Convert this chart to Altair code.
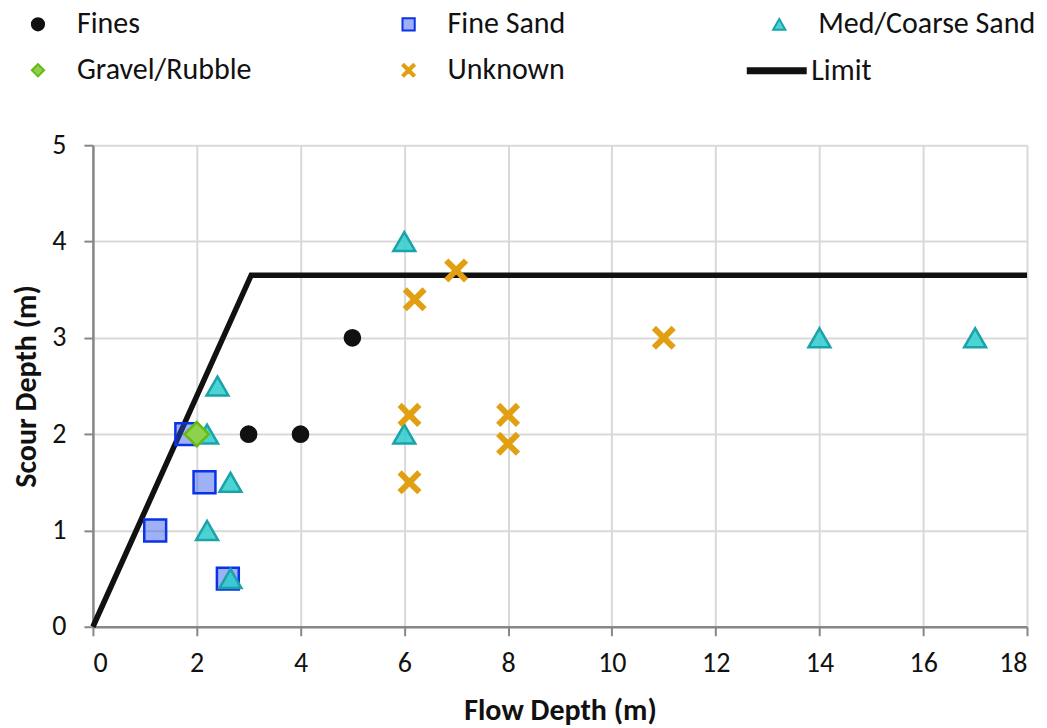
import altair as alt
import pandas as pd

categories = ["Fines", "Fine Sand", "Med/Coarse Sand", "Gravel/Rubble", "Unknown"]
limit_name = ["Limit"]

fines_x = [3, 4, 5]
fines_y = [2, 2, 3]
finesand_x = [1.8, 2.15, 1.2, 2.6]
finesand_y = [2, 1.5, 1, 0.5]
medsand_x = [6, 2.4, 2.2, 2.65, 2.2, 2.65, 6, 14, 17]
medsand_y = [4, 2.5, 2, 1.5, 1, 0.5, 2, 3, 3]
gravel_x = [2]
gravel_y = [2]
unknown_x = [7, 6.2, 11, 6.1, 8, 8, 6.1]
unknown_y = [3.7, 3.4, 3, 2.2, 2.2, 1.9, 1.5]
limit_x = [0, 3.05, 18]
limit_y = [0, 3.65, 3.65]

rows = []
for cat, xs, ys in [("Fines", fines_x, fines_y), ("Fine Sand", finesand_x, finesand_y),
                    ("Med/Coarse Sand", medsand_x, medsand_y), ("Gravel/Rubble", gravel_x, gravel_y),
                    ("Unknown", unknown_x, unknown_y)]:
    for x, y in zip(xs, ys):
        rows.append({"cat": cat, "x": x, "y": y, "order": categories.index(cat)})
pts = pd.DataFrame(rows)
lim = pd.DataFrame({"x": limit_x, "y": limit_y, "series": limit_name * len(limit_x)})

FONT = "Carlito, Calibri, Lato, sans-serif"
X_SHAPE = ("M-1,-0.76L-0.76,-1L0,-0.24L0.76,-1L1,-0.76L0.24,0L1,0.76L0.76,1"
           "L0,0.24L-0.76,1L-1,0.76L-0.24,0Z")

shapes = ["circle", "square", "triangle-up", "diamond", X_SHAPE]
fills = ["#111111", "rgba(40,80,235,0.45)", "rgba(45,205,205,0.85)", "#8ed14e", "#e0a012"]
strokes = ["#111111", "#0a32e6", "#1aa3a8", "#66bb11", "#e0a012"]

xscale = alt.Scale(domain=[0, 18], nice=False, zero=True)
yscale = alt.Scale(domain=[0, 5], nice=False, zero=True)

LEG_Y = -136

line = alt.Chart(lim).mark_line(strokeWidth=5.5, strokeJoin="miter").encode(
    x=alt.X("x:Q", scale=xscale,
            axis=alt.Axis(title="Flow Depth (m)", values=list(range(0, 19, 2)), format="d")),
    y=alt.Y("y:Q", scale=yscale,
            axis=alt.Axis(title="Scour Depth (m)", values=[0, 1, 2, 3, 4, 5], format="d")),
    color=alt.Color("series:N", scale=alt.Scale(domain=limit_name, range=["#111111"]),
                    legend=alt.Legend(title=None, orient="none", legendX=651, legendY=LEG_Y + 28,
                                      symbolType="stroke", symbolSize=3600, symbolStrokeWidth=7,
                                      labelFontSize=30, labelFont=FONT, labelOffset=1,
                                      labelColor="#111111")),
)

legend = alt.Legend(
    title=None, orient="none", legendX=-70, legendY=LEG_Y, columns=3, gridAlign="all",
    direction="horizontal",
    columnPadding=99, rowPadding=16, symbolSize=150, labelFontSize=30, labelFont=FONT,
    labelOffset=24, symbolStrokeWidth=2, labelColor="#111111", labelLimit=400,
)

points = alt.Chart(pts).mark_point(filled=True, strokeWidth=2.5, opacity=1).encode(
    x=alt.X("x:Q", scale=xscale),
    y=alt.Y("y:Q", scale=yscale),
    shape=alt.Shape("cat:N", scale=alt.Scale(domain=categories, range=shapes), legend=legend),
    fill=alt.Fill("cat:N", scale=alt.Scale(domain=categories, range=fills), legend=legend),
    stroke=alt.Stroke("cat:N", scale=alt.Scale(domain=categories, range=strokes), legend=legend),
    size=alt.when(alt.datum.cat == "Fines").then(alt.value(230))
            .when(alt.datum.cat == "Gravel/Rubble").then(alt.value(580))
            .when(alt.datum.cat == "Unknown").then(alt.value(420))
            .otherwise(alt.value(480)),
    order=alt.Order("order:Q"),
)

chart = (line + points).properties(
    width=935, height=482,
    autosize=alt.AutoSizeParams(type="none"),
    padding={"left": 85, "top": 137, "right": 12, "bottom": 100},
).configure_view(stroke=None).configure_axis(
    labelFont=FONT, titleFont=FONT, labelFontSize=28, titleFontSize=30,
    labelColor="#111111", titleColor="#111111", titleFontWeight="bold",
    gridColor="#d9d9d9", gridWidth=2, domainColor="#878787", domainWidth=2.5,
    tickColor="#878787", tickWidth=2, tickSize=9,
).configure_axisX(labelPadding=14, titlePadding=18).configure_axisY(
    labelPadding=18, titlePadding=10
)

chart.save("out.html", embed_options={"renderer": "svg", "actions": False})
